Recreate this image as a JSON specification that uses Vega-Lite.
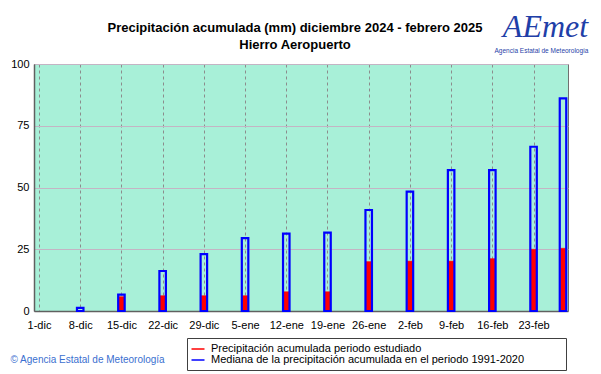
{
  "$schema": "https://vega.github.io/schema/vega-lite/v6.json",
  "width": 534,
  "height": 247,
  "autosize": {"type": "none"},
  "padding": {"left": 34, "top": 64, "right": 33, "bottom": 63},
  "background": "#ffffff",
  "title": {
    "text": ["Precipitación acumulada (mm) diciembre 2024 - febrero 2025", "Hierro Aeropuerto"],
    "anchor": "middle",
    "frame": "group",
    "font": "Liberation Sans",
    "fontSize": 13,
    "fontWeight": "bold",
    "color": "#000000",
    "lineHeight": 16.6,
    "baseline": "bottom",
    "offset": 13,
    "dx": -6,
    "dy": 68
  },
  "data": {
    "values": [
      {"fecha": "2024-12-08", "observada": 0, "mediana": 1.3},
      {"fecha": "2024-12-15", "observada": 5.8, "mediana": 6.6},
      {"fecha": "2024-12-22", "observada": 6.2, "mediana": 16.2},
      {"fecha": "2024-12-29", "observada": 6.2, "mediana": 23.0},
      {"fecha": "2025-01-05", "observada": 6.2, "mediana": 29.5},
      {"fecha": "2025-01-12", "observada": 7.8, "mediana": 31.3},
      {"fecha": "2025-01-19", "observada": 7.8, "mediana": 31.7},
      {"fecha": "2025-01-26", "observada": 20.0, "mediana": 40.9},
      {"fecha": "2025-02-02", "observada": 20.2, "mediana": 48.3},
      {"fecha": "2025-02-09", "observada": 20.2, "mediana": 57.0},
      {"fecha": "2025-02-16", "observada": 21.2, "mediana": 57.0},
      {"fecha": "2025-02-23", "observada": 25.0, "mediana": 66.5},
      {"fecha": "2025-02-28", "observada": 25.4, "mediana": 86.1}
    ]
  },
  "layer": [
    {
      "mark": {"type": "bar", "width": 5.5, "fill": "#ff0000", "strokeWidth": 0.5},
      "encoding": {
        "x": {
          "field": "fecha",
          "type": "temporal",
          "scale": {
            "type": "utc",
            "nice": false,
            "domain": [
              {"year": 2024, "month": 12, "date": 1, "utc": true},
              {"year": 2025, "month": 2, "date": 28, "utc": true}
            ]
          },
          "axis": {
            "values": [
              {"year": 2024, "month": 12, "date": 1, "utc": true},
              {"year": 2024, "month": 12, "date": 8, "utc": true},
              {"year": 2024, "month": 12, "date": 15, "utc": true},
              {"year": 2024, "month": 12, "date": 22, "utc": true},
              {"year": 2024, "month": 12, "date": 29, "utc": true},
              {"year": 2025, "month": 1, "date": 5, "utc": true},
              {"year": 2025, "month": 1, "date": 12, "utc": true},
              {"year": 2025, "month": 1, "date": 19, "utc": true},
              {"year": 2025, "month": 1, "date": 26, "utc": true},
              {"year": 2025, "month": 2, "date": 2, "utc": true},
              {"year": 2025, "month": 2, "date": 9, "utc": true},
              {"year": 2025, "month": 2, "date": 16, "utc": true},
              {"year": 2025, "month": 2, "date": 23, "utc": true}
            ],
            "labelExpr": "utcdate(datum.value) + '-' + ['ene','feb','mar','abr','may','jun','jul','ago','sep','oct','nov','dic'][utcmonth(datum.value)]",
            "grid": true,
            "gridColor": "#8c8c8c",
            "gridDash": [3, 3],
            "gridWidth": 1,
            "labelFontSize": 11,
            "labelPadding": 8,
            "labelFlush": false,
            "labelOverlap": false,
            "ticks": false,
            "domainColor": "#606060",
            "domainWidth": 1.5,
            "title": "© Agencia Estatal de Meteorología",
            "titleX": -24,
            "titleY": 48,
            "titleAlign": "left",
            "titleAnchor": "start",
            "titleBaseline": "middle",
            "titleColor": "#3a6fd0",
            "titleFontSize": 10,
            "titleFontWeight": "normal"
          }
        },
        "y": {
          "field": "observada",
          "type": "quantitative",
          "scale": {"domain": [0, 100], "nice": false},
          "axis": {
            "values": [0, 25, 50, 75, 100],
            "grid": true,
            "gridColor": "#c4b4c4",
            "labelFontSize": 11,
            "labelPadding": 5,
            "ticks": false,
            "domainColor": "#606060",
            "domainWidth": 1.5,
            "title": "AEmet",
            "titleX": 511,
            "titleY": -38,
            "titleAngle": 0,
            "titleAlign": "center",
            "titleBaseline": "middle",
            "titleFont": "Liberation Serif",
            "titleFontStyle": "italic",
            "titleFontSize": 32,
            "titleFontWeight": "normal",
            "titleColor": "#1f3fa8"
          }
        },
        "stroke": {
          "datum": "Precipitación acumulada periodo estudiado",
          "type": "nominal",
          "scale": {
            "domain": ["Precipitación acumulada periodo estudiado", "Mediana de la precipitación acumulada en el periodo 1991-2020"],
            "range": ["#ff0000", "#0000ff"]
          },
          "legend": {
            "title": "\u00a0",
            "titleOrient": "right",
            "titlePadding": 37,
            "titleFontSize": 11,
            "titleLimit": 10,
            "orient": "none",
            "legendX": 153,
            "legendY": 274,
            "symbolType": "M-1.3,0H1.3",
            "symbolSize": 100,
            "symbolStrokeWidth": 1.5,
            "labelFont": "Liberation Sans",
            "labelFontSize": 11,
            "labelColor": "#000000",
            "labelOffset": 7,
            "labelLimit": 500,
            "rowPadding": -3,
            "padding": 5,
            "strokeColor": "#404040",
            "fillColor": "#ffffff"
          }
        }
      }
    },
    {
      "mark": {"type": "bar", "width": 6.5, "filled": false, "fill": "transparent", "strokeWidth": 2.2},
      "encoding": {
        "x": {"field": "fecha", "type": "temporal"},
        "y": {
          "field": "mediana",
          "type": "quantitative",
          "scale": {"domain": [0, 100], "nice": false},
          "axis": {
            "orient": "right",
            "labels": false,
            "ticks": false,
            "domain": false,
            "grid": false,
            "title": "Agencia Estatal de Meteorología",
            "titleX": -27,
            "titleY": -14,
            "titleAngle": 0,
            "titleAlign": "center",
            "titleBaseline": "middle",
            "titleFontSize": 6.5,
            "titleFontWeight": "normal",
            "titleColor": "#1f3fa8"
          }
        },
        "stroke": {
          "datum": "Mediana de la precipitación acumulada en el periodo 1991-2020",
          "type": "nominal",
          "legend": null
        }
      }
    }
  ],
  "resolve": {"scale": {"y": "independent"}},
  "config": {
    "font": "Liberation Sans",
    "view": {"fill": "#a8f0d8", "stroke": "#707070", "strokeWidth": 1},
    "axis": {"labelFont": "Liberation Sans", "titleFont": "Liberation Sans", "labelColor": "#000000"}
  }
}
